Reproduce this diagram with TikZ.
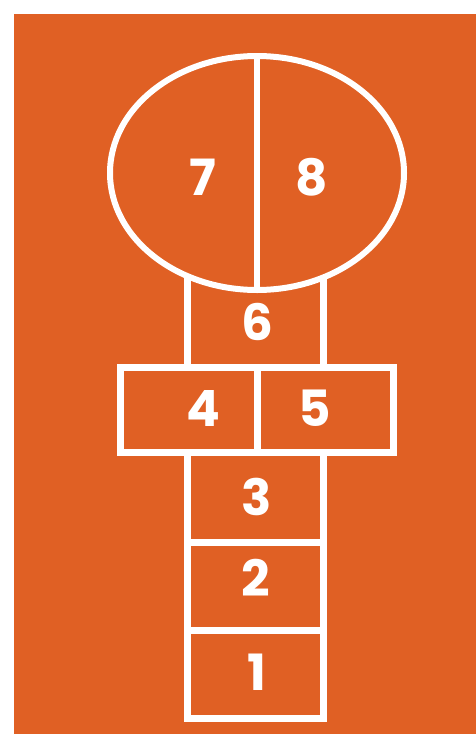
\documentclass[tikz,border=0pt]{standalone}
\usepackage{fontspec}
\setmainfont{Poppins}
\definecolor{courtorange}{RGB}{224,96,36}
\tikzset{
  chalk/.style={draw=white,line width=7pt},
  num/.style={text=white,font=\fontsize{50}{50}\selectfont\bfseries,inner sep=0pt,anchor=center}
}
\begin{document}
\begin{tikzpicture}[x=1pt,y=-1pt]
\useasboundingbox (0,0) rectangle (476,734);
\fill[white] (0,0) rectangle (476,734);
\fill[courtorange] (14,14) rectangle (476,734);
% ellipse top
\draw[chalk,line width=6pt] (257,173) ellipse [x radius=147,y radius=117];
\draw[chalk,line width=6pt] (257,56) -- (257,290);
% column upper part (cell 6)
\draw[chalk] (187,276) -- (187,367);
\draw[chalk] (323,276) -- (323,367);
% column lower part
\draw[chalk] (187,452) -- (187,718) -- (323,718) -- (323,452);
\draw[chalk] (187,542) -- (323,542);
\draw[chalk] (187,630) -- (323,630);
% 4/5 rectangle
\draw[chalk] (120,367) rectangle (393,452);
\draw[chalk] (257,367) -- (257,452);
% numbers
\node[num] (n7) at (203,177) {7};
\node[num] (n8) at (312,177) {8};
\node[num] (n6) at (257,322) {6};
\node[num] (n4) at (203,408) {4};
\node[num] (n5) at (315,408) {5};
\node[num] (n3) at (257,497) {3};
\node[num] (n2) at (256,578) {2};
\node[num] (n1) at (257,672) {1};
\end{tikzpicture}
\end{document}
